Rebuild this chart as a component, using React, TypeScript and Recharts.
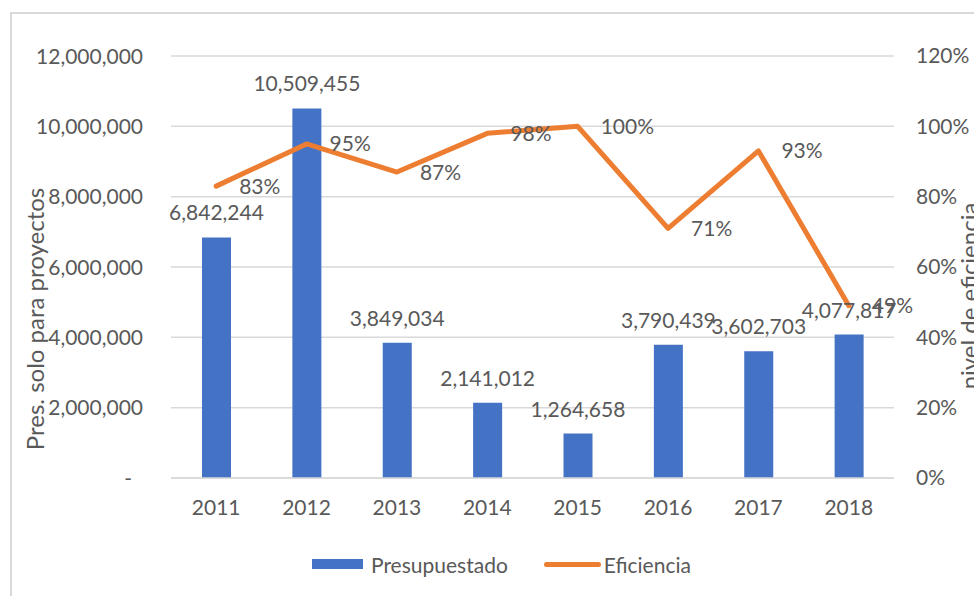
import React from "react";
import {
  ComposedChart,
  Bar,
  Line,
  XAxis,
  YAxis,
  CartesianGrid,
  Legend,
  LabelList,
  Label,
} from "recharts";

const years = ["2011", "2012", "2013", "2014", "2015", "2016", "2017", "2018"];
const presupuestado = [6842244, 10509455, 3849034, 2141012, 1264658, 3790439, 3602703, 4077817];
const eficiencia = [83, 95, 87, 98, 100, 71, 93, 49];
const leftTicks = [0, 2000000, 4000000, 6000000, 8000000, 10000000, 12000000];
const rightTicks = [0, 20, 40, 60, 80, 100, 120];

const data = years.map((year, i) => ({
  year,
  presupuestado: presupuestado[i],
  eficiencia: eficiencia[i],
}));

const BLUE = "#4472C4";
const ORANGE = "#ED7D31";
const TEXT = "#595959";
const GRID = "#D9D9D9";
const FONT = "Lato, 'Open Sans', sans-serif";

const fmtNum = (v: number) => v.toLocaleString("en-US");

const LeftTick = (props: any) => {
  const { x, y, payload } = props;
  const zero = payload.value === 0;
  return (
    <text x={zero ? x - 11 : x} y={y} dy="0.36em" textAnchor="end" fill={TEXT} fontSize={21} fontFamily={FONT}>
      {zero ? "-" : fmtNum(payload.value)}
    </text>
  );
};

const renderLegend = () => (
  <div
    style={{
      display: "flex",
      alignItems: "center",
      height: 30,
      paddingLeft: 312,
      fontSize: 21,
      color: TEXT,
      fontFamily: FONT,
    }}
  >
    <span style={{ display: "inline-block", width: 51, height: 10, background: BLUE, marginRight: 8 }} />
    <span>Presupuestado</span>
    <span
      style={{ display: "inline-block", width: 57, height: 5, background: ORANGE, borderRadius: 3, marginLeft: 36, marginRight: 3 }}
    />
    <span>Eficiencia</span>
  </div>
);

export default function App() {
  return (
    <div style={{ position: "relative", width: 974, height: 596, overflow: "hidden", background: "#fff" }}>
      <style>{`body{margin:0}`}</style>
      <div
        style={{
          position: "absolute",
          left: 10,
          top: 12,
          width: 1000,
          height: 700,
          border: `2px solid ${GRID}`,
        }}
      />
      <div style={{ position: "absolute", left: 0, top: 0 }}>
        <ComposedChart
          width={974}
          height={596}
          data={data}
          margin={{ top: 56, right: 0, bottom: 17, left: 0 }}
          style={{ fontFamily: FONT }}
        >
          <CartesianGrid yAxisId="left" vertical={false} stroke={GRID} strokeWidth={1.5} />
          <XAxis
            dataKey="year"
            height={71}
            axisLine={{ stroke: GRID, strokeWidth: 1.5 }}
            tickLine={false}
            tickSize={0}
            tickMargin={22}
            tick={{ fill: TEXT, fontSize: 21, fontFamily: FONT }}
          />
          <YAxis
            yAxisId="left"
            width={171}
            domain={[0, 12000000]}
            ticks={leftTicks}
            axisLine={false}
            tickLine={false}
            tickSize={8}
            tickMargin={20}
            tick={<LeftTick />}
          >
            <Label
              content={() => (
                <text
                  x={34}
                  y={319}
                  transform="rotate(-90 34 319)"
                  textAnchor="middle"
                  dominantBaseline="central"
                  fill={TEXT}
                  fontSize={24}
                  fontFamily={FONT}
                >
                  Pres. solo para proyectos
                </text>
              )}
            />
          </YAxis>
          <YAxis
            yAxisId="right"
            orientation="right"
            width={80}
            domain={[0, 120]}
            ticks={rightTicks}
            axisLine={false}
            tickLine={false}
            tickSize={8}
            tickMargin={14}
            tickFormatter={(v: number) => `${v}%`}
            tick={{ fill: TEXT, fontSize: 21, fontFamily: FONT }}
          >
            <Label
              content={() => (
                <text
                  x={968}
                  y={296}
                  transform="rotate(-90 968 296)"
                  textAnchor="middle"
                  dominantBaseline="central"
                  fill={TEXT}
                  fontSize={24}
                  fontFamily={FONT}
                >
                  nivel de eficiencia
                </text>
              )}
            />
          </YAxis>
          <Bar yAxisId="left" dataKey="presupuestado" name="Presupuestado" fill={BLUE} barSize={29} isAnimationActive={false}>
            <LabelList
              dataKey="presupuestado"
              position="top"
              offset={17}
              formatter={(v: any) => fmtNum(Number(v))}
              style={{ fill: TEXT, fontSize: 21, fontFamily: FONT }}
            />
          </Bar>
          <Line
            yAxisId="right"
            type="linear"
            dataKey="eficiencia"
            name="Eficiencia"
            stroke={ORANGE}
            strokeWidth={5}
            strokeLinecap="round"
            strokeLinejoin="round"
            dot={false}
            activeDot={false}
            isAnimationActive={false}
          >
            <LabelList
              dataKey="eficiencia"
              position="right"
              offset={23}
              formatter={(v: any) => `${v}%`}
              style={{ fill: TEXT, fontSize: 21, fontFamily: FONT }}
            />
          </Line>
          <Legend verticalAlign="bottom" content={renderLegend} />
        </ComposedChart>
      </div>
    </div>
  );
}
